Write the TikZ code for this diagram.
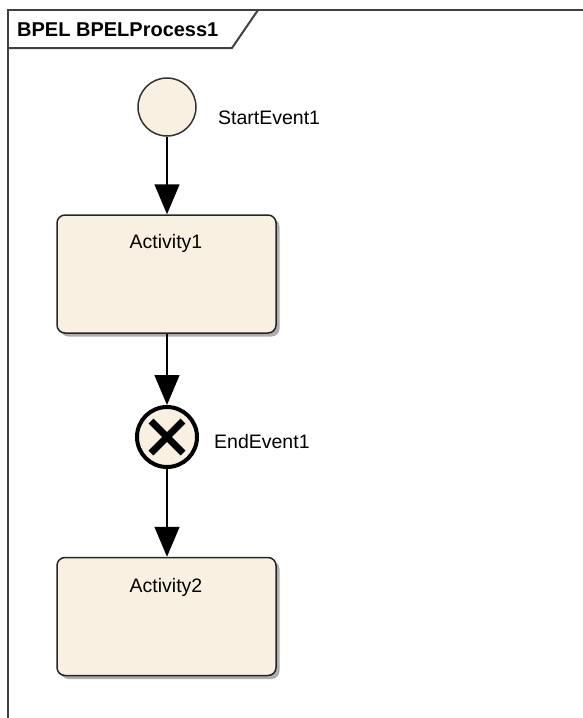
\documentclass[tikz,border=0pt]{standalone}
\usepackage{fontspec}
\setmainfont{Liberation Sans}
\usetikzlibrary{arrows.meta,shadows}
\definecolor{beige}{RGB}{250,240,226}
\definecolor{framegray}{RGB}{64,64,64}
\tikzset{
  lbl/.style={font=\fontsize{19.5}{22}\selectfont, inner sep=0pt},
  actbox/.style={draw=black!85, line width=1.5pt, fill=beige, rounded corners=8pt,
    minimum width=219pt, minimum height=118pt, inner sep=0pt,
    drop shadow={shadow xshift=3.5pt, shadow yshift=-3.5pt, fill=black!40, opacity=0.8}},
  startev/.style={circle, draw=black!80, line width=1.5pt, fill=beige, minimum size=58pt, inner sep=0pt},
  endev/.style={circle, draw=black, line width=4pt, fill=beige, minimum size=60pt, inner sep=0pt},
  flow/.style={line width=1.5pt, -{Triangle[length=30pt,width=25pt]}},
  framel/.style={draw=framegray, line width=2pt},
}
\begin{document}
\begin{tikzpicture}[x=1pt,y=-1pt]
\useasboundingbox (0,0) rectangle (582,718);
% frame
\draw[framel] (8,730) -- (8,10) -- (590,10);
\draw[framel] (8,48) -- (232,48) -- (258,10);
\node[lbl, font=\bfseries\fontsize{20}{22}\selectfont, anchor=west] (title) at (17,30) {BPEL BPELProcess1};
% nodes
\node[startev] (start) at (167,107) {};
\node[lbl, anchor=west] (startlbl) at (218,118) {StartEvent1};
\node[actbox] (act1) at (166.5,274) {};
\node[lbl] (act1lbl) at (166,243) {Activity1};
\node[endev] (end) at (167,437) {};
\draw[line width=7pt, line cap=butt] (151,421) -- (183,453) (151,453) -- (183,421);
\node[lbl, anchor=west] (endlbl) at (214,442) {EndEvent1};
\node[actbox] (act2) at (166.5,616.5) {};
\node[lbl] (act2lbl) at (166,587) {Activity2};
% flows
\draw[flow] (start.south) -- (start.south |- act1.north);
\draw[flow] (act1.south -| end.north) -- (end.north);
\draw[flow] (end.south) -- (end.south |- act2.north);
\end{tikzpicture}
\end{document}
